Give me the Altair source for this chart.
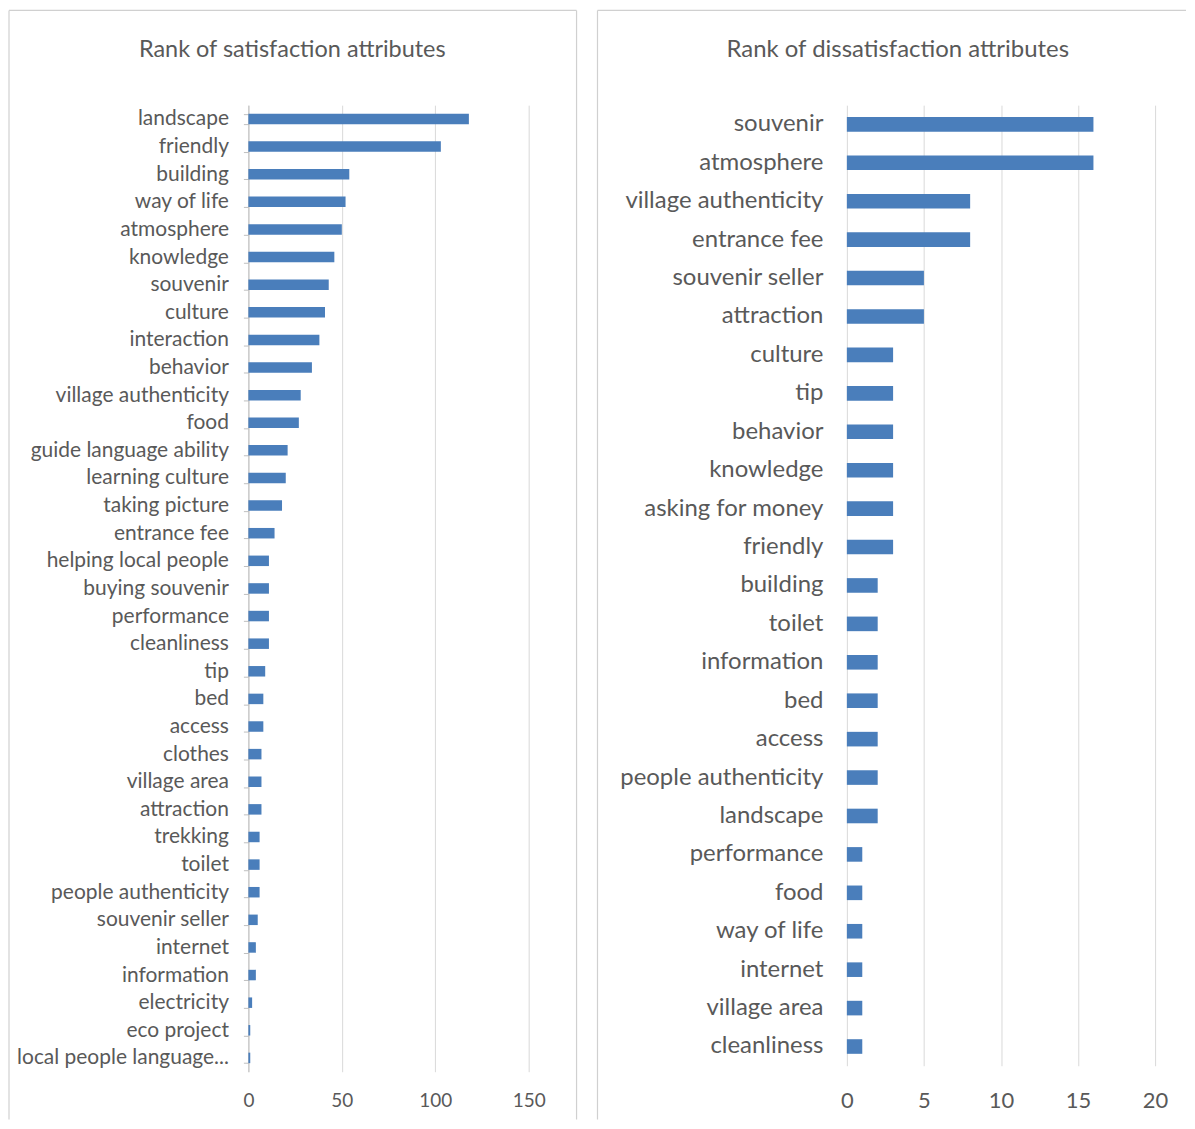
import altair as alt
import pandas as pd

sat_labels = [
    "landscape", "friendly", "building", "way of life", "atmosphere", "knowledge",
    "souvenir", "culture", "interaction", "behavior", "village authenticity", "food",
    "guide language ability", "learning culture", "taking picture", "entrance fee",
    "helping local people", "buying souvenir", "performance", "cleanliness", "tip",
    "bed", "access", "clothes", "village area", "attraction", "trekking", "toilet",
    "people authenticity", "souvenir seller", "internet", "information",
    "electricity", "eco project", "local people language...",
]
sat_values = [118, 103, 54, 52, 50, 46, 43, 41, 38, 34, 28, 27, 21, 20, 18, 14,
              11, 11, 11, 11, 9, 8, 8, 7, 7, 7, 6, 6, 6, 5, 4, 4, 2, 1, 1]

dis_labels = [
    "souvenir", "atmosphere", "village authenticity", "entrance fee", "souvenir seller",
    "attraction", "culture", "tip", "behavior", "knowledge", "asking for money",
    "friendly", "building", "toilet", "information", "bed", "access",
    "people authenticity", "landscape", "performance", "food", "way of life",
    "internet", "village area", "cleanliness",
]
dis_values = [16, 16, 8, 8, 5, 5, 3, 3, 3, 3, 3, 3, 2, 2, 2, 2, 2, 2, 2, 1, 1, 1, 1, 1, 1]

sat_ticks = [0, 50, 100, 150]
dis_ticks = [0, 5, 10, 15, 20]

FONT = "Lato"
GRAY = "#595959"
BAR = "#4a7ebb"
GRID = "#d9d9d9"
FRAME = "#d0d0d0"

one = pd.DataFrame({"k": [0]})


def frame_rules(segments):
    layers = []
    for (x1, x2, y1, y2) in segments:
        if x1 == x2:
            enc = dict(x=alt.value(x1), y=alt.value(y1), y2=alt.value(y2))
        else:
            enc = dict(x=alt.value(x1), x2=alt.value(x2), y=alt.value(y1))
        layers.append(alt.Chart(one).mark_rule(color=FRAME, strokeWidth=1.2).encode(**enc))
    return layers


def panel(labels, values, title, width, height, domain, ticks, label_size,
          x_label_size, title_size, title_x, y_axis_line, y_pad, x_pad, segments):
    df = pd.DataFrame({"attr": labels, "count": values})
    if y_axis_line:
        yaxis = alt.Axis(title=None, domain=True, domainColor="#bfbfbf", ticks=True,
                         tickColor="#bfbfbf", tickSize=5, tickBand="extent",
                         labelFontSize=label_size, labelColor=GRAY, labelFont=FONT,
                         labelPadding=y_pad, labelLimit=400)
    else:
        yaxis = alt.Axis(title=None, domain=False, ticks=False,
                         labelFontSize=label_size, labelColor=GRAY, labelFont=FONT,
                         labelPadding=y_pad, labelLimit=400)
    bars = alt.Chart(df).mark_bar(color=BAR).encode(
        x=alt.X("count:Q",
                scale=alt.Scale(domain=domain, nice=False, zero=True),
                axis=alt.Axis(values=ticks, title=None, grid=True, gridColor=GRID,
                              domain=False, ticks=False, labelFontSize=x_label_size,
                              labelColor=GRAY, labelFont=FONT, labelPadding=x_pad,
                              labelFlush=False)),
        y=alt.Y("attr:N", sort=labels,
                scale=alt.Scale(paddingInner=0.62, paddingOuter=0.31),
                axis=yaxis),
    )
    head = alt.Chart(one).mark_text(
        font=FONT, fontSize=title_size, color=GRAY, align="center", baseline="middle"
    ).encode(x=alt.value(title_x), y=alt.value(-55), text=alt.value(title))
    return alt.layer(bars, head, *frame_rules(segments)).properties(
        width=width, height=height)


left = panel(sat_labels, sat_values, "Rank of satisfaction attributes", 281, 969,
             [0, 150], sat_ticks, 21, 19, 23.5, 44, True, 15, 20,
             [(-240, -240, -95, 1017), (-240, 329, -95, -95), (329, 329, -95, 1017)])

right = panel(dis_labels, dis_values, "Rank of dissatisfaction attributes", 309, 963,
              [0, 20], dis_ticks, 24, 22, 24, 51, False, 24, 25,
              [(-250, -250, -95, 1017), (-250, 340, -95, -95)])

chart = alt.hconcat(left, right, spacing=19).properties(
    padding={"left": 0, "top": 0, "right": 0, "bottom": 0}
).configure_view(stroke=None)

chart.save("out.html", embed_options={"renderer": "svg", "actions": False})
